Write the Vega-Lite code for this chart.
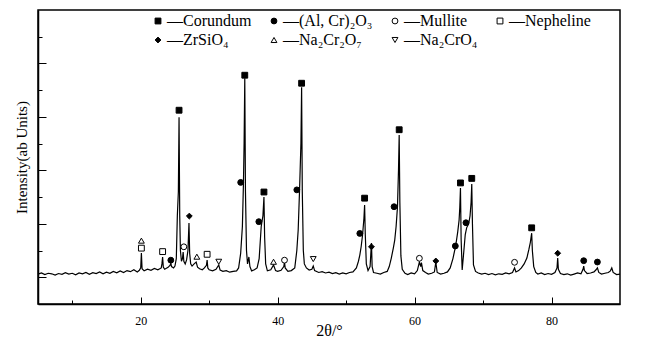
{
  "$schema": "https://vega.github.io/schema/vega-lite/v6.json",
  "width": 582,
  "height": 294,
  "autosize": {"type": "none"},
  "padding": {"left": 38, "top": 10, "right": 27, "bottom": 48},
  "background": "white",
  "config": {"view": {"stroke": "black", "strokeWidth": 1.5}, "font": "Liberation Serif"},
  "datasets": {
    "pattern": [
      {"t":5,"i":112},{"t":5.5,"i":116},{"t":6,"i":110},{"t":6.5,"i":115},{"t":7,"i":113},{"t":7.5,"i":108},{"t":8,"i":114},{"t":8.5,"i":111},{"t":9,"i":117},{"t":9.5,"i":112},
      {"t":10,"i":115},{"t":10.5,"i":109},{"t":11,"i":116},{"t":11.5,"i":113},{"t":12,"i":118},{"t":12.5,"i":111},{"t":13,"i":117},{"t":13.5,"i":114},{"t":14,"i":120},{"t":14.5,"i":113},
      {"t":15,"i":119},{"t":15.5,"i":115},{"t":16,"i":122},{"t":16.5,"i":117},{"t":17,"i":124},{"t":17.5,"i":118},{"t":18,"i":125},{"t":18.5,"i":121},{"t":19,"i":128},{"t":19.5,"i":120},
      {"t":19.8,"i":126},{"t":20.0,"i":135},{"t":20.1,"i":191},{"t":20.2,"i":132},{"t":20.5,"i":124},{"t":21,"i":130},{"t":21.5,"i":126},{"t":22,"i":133},{"t":22.5,"i":128},{"t":23,"i":135},
      {"t":23.1,"i":150},{"t":23.2,"i":176},{"t":23.3,"i":138},{"t":23.5,"i":130},{"t":24,"i":137},{"t":24.3,"i":145},{"t":24.4,"i":153},{"t":24.5,"i":140},{"t":24.8,"i":135},{"t":25.0,"i":142},
      {"t":25.2,"i":170},{"t":25.35,"i":330},{"t":25.5,"i":420},{"t":25.6,"i":699},{"t":25.7,"i":330},{"t":25.8,"i":200},{"t":25.95,"i":160},{"t":26.1,"i":170},{"t":26.2,"i":194},{"t":26.3,"i":160},
      {"t":26.5,"i":150},{"t":26.7,"i":165},{"t":26.9,"i":200},{"t":27.05,"i":303},{"t":27.15,"i":190},{"t":27.3,"i":150},{"t":27.5,"i":142},{"t":27.8,"i":150},{"t":28.1,"i":157},{"t":28.3,"i":138},
      {"t":28.6,"i":132},{"t":29,"i":128},{"t":29.3,"i":135},{"t":29.6,"i":145},{"t":29.7,"i":164},{"t":29.8,"i":135},{"t":30,"i":128},{"t":30.5,"i":124},{"t":31,"i":130},{"t":31.4,"i":146},
      {"t":31.6,"i":127},{"t":32,"i":122},{"t":32.5,"i":125},{"t":33,"i":119},{"t":33.5,"i":122},{"t":34,"i":124},{"t":34.3,"i":135},{"t":34.6,"i":190},{"t":34.85,"i":290},{"t":35.0,"i":445},
      {"t":35.1,"i":600},{"t":35.2,"i":845},{"t":35.3,"i":420},{"t":35.45,"i":200},{"t":35.6,"i":150},{"t":35.8,"i":176},{"t":35.95,"i":140},{"t":36.2,"i":124},{"t":36.6,"i":128},{"t":37,"i":135},
      {"t":37.3,"i":170},{"t":37.6,"i":290},{"t":37.85,"i":330},{"t":38.0,"i":400},{"t":38.1,"i":250},{"t":38.25,"i":150},{"t":38.5,"i":124},{"t":39,"i":128},{"t":39.4,"i":146},{"t":39.7,"i":125},
      {"t":40,"i":122},{"t":40.5,"i":126},{"t":40.9,"i":140},{"t":41.0,"i":157},{"t":41.1,"i":135},{"t":41.5,"i":122},{"t":42,"i":125},{"t":42.5,"i":135},{"t":42.8,"i":200},{"t":43.0,"i":277},
      {"t":43.2,"i":426},{"t":43.4,"i":600},{"t":43.5,"i":811},{"t":43.6,"i":420},{"t":43.75,"i":200},{"t":43.9,"i":150},{"t":44.2,"i":135},{"t":44.6,"i":127},{"t":45,"i":130},{"t":45.2,"i":142},
      {"t":45.4,"i":125},{"t":46,"i":118},{"t":46.5,"i":121},{"t":47,"i":116},{"t":47.5,"i":119},{"t":48,"i":114},{"t":48.5,"i":117},{"t":49,"i":112},{"t":49.5,"i":116},{"t":50,"i":113},
      {"t":50.5,"i":118},{"t":51,"i":120},{"t":51.5,"i":135},{"t":51.8,"i":160},{"t":52.0,"i":183},{"t":52.2,"i":215},{"t":52.4,"i":258},{"t":52.6,"i":320},{"t":52.7,"i":370},{"t":52.8,"i":260},
      {"t":52.95,"i":150},{"t":53.2,"i":125},{"t":53.5,"i":140},{"t":53.7,"i":228},{"t":53.8,"i":140},{"t":54,"i":118},{"t":54.5,"i":115},{"t":55,"i":112},{"t":55.5,"i":118},{"t":56,"i":122},
      {"t":56.3,"i":140},{"t":56.6,"i":172},{"t":56.9,"i":210},{"t":57.1,"i":239},{"t":57.3,"i":290},{"t":57.5,"i":363},{"t":57.65,"i":500},{"t":57.75,"i":632},{"t":57.85,"i":380},{"t":58.0,"i":180},
      {"t":58.2,"i":130},{"t":58.6,"i":115},{"t":59,"i":110},{"t":59.5,"i":116},{"t":60,"i":113},{"t":60.4,"i":125},{"t":60.7,"i":157},{"t":60.9,"i":140},{"t":61.0,"i":155},{"t":61.2,"i":125},
      {"t":61.6,"i":118},{"t":62,"i":112},{"t":62.5,"i":115},{"t":62.9,"i":120},{"t":63.1,"i":157},{"t":63.3,"i":118},{"t":63.8,"i":112},{"t":64.3,"i":115},{"t":64.8,"i":120},{"t":65.2,"i":135},
      {"t":65.6,"i":170},{"t":66.0,"i":217},{"t":66.3,"i":270},{"t":66.5,"i":314},{"t":66.6,"i":360},{"t":66.7,"i":434},{"t":66.8,"i":240},{"t":66.95,"i":127},{"t":67.2,"i":200},{"t":67.4,"i":260},
      {"t":67.6,"i":285},{"t":67.9,"i":300},{"t":68.1,"i":330},{"t":68.25,"i":380},{"t":68.35,"i":449},{"t":68.45,"i":300},{"t":68.6,"i":146},{"t":68.9,"i":122},{"t":69.3,"i":116},{"t":69.8,"i":112},
      {"t":70.3,"i":115},{"t":70.8,"i":110},{"t":71.3,"i":114},{"t":71.8,"i":109},{"t":72.3,"i":113},{"t":72.8,"i":111},{"t":73.3,"i":116},{"t":73.8,"i":113},{"t":74.3,"i":118},{"t":74.6,"i":135},
      {"t":74.8,"i":120},{"t":75.2,"i":125},{"t":75.6,"i":135},{"t":76.0,"i":150},{"t":76.4,"i":172},{"t":76.7,"i":205},{"t":76.9,"i":230},{"t":77.1,"i":265},{"t":77.2,"i":200},{"t":77.4,"i":140},
      {"t":77.7,"i":118},{"t":78,"i":112},{"t":78.5,"i":116},{"t":79,"i":110},{"t":79.5,"i":114},{"t":80,"i":111},{"t":80.5,"i":118},{"t":80.8,"i":135},{"t":80.9,"i":172},{"t":81.0,"i":130},
      {"t":81.3,"i":114},{"t":81.8,"i":110},{"t":82.3,"i":113},{"t":82.8,"i":108},{"t":83.3,"i":112},{"t":83.8,"i":116},{"t":84.3,"i":113},{"t":84.6,"i":130},{"t":84.7,"i":142},{"t":84.8,"i":125},
      {"t":85.2,"i":114},{"t":85.7,"i":116},{"t":86.2,"i":120},{"t":86.5,"i":128},{"t":86.7,"i":135},{"t":86.9,"i":118},{"t":87.3,"i":112},{"t":87.8,"i":115},{"t":88.3,"i":118},{"t":88.6,"i":124},
      {"t":88.8,"i":135},{"t":89,"i":118},{"t":89.5,"i":110},{"t":90,"i":112}
    ],
    "peaks": [
      {"t":25.6,"i":725,"phase":"Corundum"},{"t":35.2,"i":856,"phase":"Corundum"},{"t":38.0,"i":419,"phase":"Corundum"},{"t":43.5,"i":826,"phase":"Corundum"},{"t":52.7,"i":396,"phase":"Corundum"},{"t":57.75,"i":652,"phase":"Corundum"},{"t":66.7,"i":453,"phase":"Corundum"},{"t":68.35,"i":470,"phase":"Corundum"},{"t":77.1,"i":285,"phase":"Corundum"},
      {"t":24.4,"i":164,"phase":"(Al, Cr)₂O₃"},{"t":34.6,"i":455,"phase":"(Al, Cr)₂O₃"},{"t":37.25,"i":308,"phase":"(Al, Cr)₂O₃"},{"t":42.8,"i":427,"phase":"(Al, Cr)₂O₃"},{"t":52.0,"i":264,"phase":"(Al, Cr)₂O₃"},{"t":57.0,"i":364,"phase":"(Al, Cr)₂O₃"},{"t":65.95,"i":217,"phase":"(Al, Cr)₂O₃"},{"t":67.5,"i":304,"phase":"(Al, Cr)₂O₃"},{"t":84.7,"i":162,"phase":"(Al, Cr)₂O₃"},{"t":86.7,"i":157,"phase":"(Al, Cr)₂O₃"},
      {"t":26.3,"i":214,"phase":"Mullite"},{"t":41.0,"i":164,"phase":"Mullite"},{"t":60.7,"i":171,"phase":"Mullite"},{"t":74.6,"i":156,"phase":"Mullite"},
      {"t":20.1,"i":209,"phase":"Nepheline"},{"t":23.2,"i":196,"phase":"Nepheline"},{"t":29.7,"i":186,"phase":"Nepheline"},
      {"t":27.1,"i":329,"phase":"ZrSiO₄"},{"t":53.7,"i":214,"phase":"ZrSiO₄"},{"t":63.1,"i":161,"phase":"ZrSiO₄"},{"t":80.9,"i":190,"phase":"ZrSiO₄"},
      {"t":20.1,"i":237,"phase":"Na₂Cr₂O₇"},{"t":28.2,"i":177,"phase":"Na₂Cr₂O₇"},{"t":39.4,"i":158,"phase":"Na₂Cr₂O₇"},
      {"t":31.4,"i":158,"phase":"Na₂CrO₄"},{"t":45.2,"i":168,"phase":"Na₂CrO₄"}
    ]
  },
  "encoding": {
    "x": {
      "field": "t", "type": "quantitative",
      "scale": {"domain": [5, 90], "nice": false, "zero": false},
      "axis": {
        "title": "2θ/°", "values": [10, 20, 30, 40, 50, 60, 70, 80],
        "labelExpr": "datum.value % 20 === 0 ? datum.label : ''",
        "grid": false, "domainColor": "black", "domainWidth": 1.5,
        "tickColor": "black", "tickWidth": 1,
        "tickSize": {"condition": {"test": "datum.value % 20 === 0", "value": -7}, "value": -4},
        "labelPadding": 18, "labelFont": "Liberation Serif", "labelFontSize": 12, "labelColor": "black",
        "titleFont": "Liberation Serif", "titleFontSize": 16, "titleFontWeight": "normal", "titleColor": "black", "titlePadding": -4
      }
    },
    "y": {
      "field": "i", "type": "quantitative",
      "scale": {"domain": [0, 1100], "nice": false, "zero": true},
      "axis": {
        "title": "Intensity(ab Units)", "values": [100, 200, 300, 400, 500, 600, 700, 800, 900, 1000],
        "labels": false, "grid": false, "domainColor": "black", "domainWidth": 1.5,
        "tickColor": "black", "tickWidth": 1,
        "tickSize": {"condition": {"test": "datum.value % 200 === 100", "value": -8}, "value": -4},
        "titleFont": "Liberation Serif", "titleFontSize": 15, "titleFontWeight": "normal", "titleColor": "black", "titlePadding": 8
      }
    }
  },
  "layer": [
    {"data": {"name": "pattern"}, "mark": {"type": "line", "color": "black", "strokeWidth": 1.2}},
    {
      "data": {"name": "peaks"},
      "mark": {"type": "point", "filled": true, "strokeWidth": 1, "size": 34, "opacity": 1},
      "encoding": {
        "shape": {
          "field": "phase", "type": "nominal",
          "scale": {"domain": ["Corundum", "(Al, Cr)₂O₃", "Mullite", "Nepheline", "ZrSiO₄", "Na₂Cr₂O₇", "Na₂CrO₄"],
                    "range": ["square", "circle", "circle", "square", "diamond", "triangle-up", "triangle-down"]},
          "legend": {"title": null, "orient": "none", "legendX": 112, "legendY": 3, "direction": "horizontal", "columns": 4, "gridAlign": "each",
                     "labelExpr": "'—' + datum.label", "labelFont": "Liberation Serif", "labelFontSize": 16, "labelColor": "black", "labelOffset": 1, "labelLimit": 0,
                     "symbolSize": 34, "symbolStrokeWidth": 1, "columnPadding": 14, "rowPadding": 3, "padding": 0}
        },
        "fill": {
          "field": "phase", "type": "nominal",
          "scale": {"domain": ["Corundum", "(Al, Cr)₂O₃", "Mullite", "Nepheline", "ZrSiO₄", "Na₂Cr₂O₇", "Na₂CrO₄"],
                    "range": ["black", "black", "white", "white", "black", "white", "white"]},
          "legend": {"title": null, "orient": "none", "legendX": 112, "legendY": 3, "direction": "horizontal", "columns": 4, "gridAlign": "each",
                     "labelExpr": "'—' + datum.label", "labelFont": "Liberation Serif", "labelFontSize": 16, "labelColor": "black", "labelOffset": 1, "labelLimit": 0,
                     "symbolSize": 34, "symbolStrokeWidth": 1, "columnPadding": 14, "rowPadding": 3, "padding": 0}
        },
        "stroke": {
          "field": "phase", "type": "nominal",
          "scale": {"domain": ["Corundum", "(Al, Cr)₂O₃", "Mullite", "Nepheline", "ZrSiO₄", "Na₂Cr₂O₇", "Na₂CrO₄"],
                    "range": ["black", "black", "black", "black", "black", "black", "black"]},
          "legend": {"title": null, "orient": "none", "legendX": 112, "legendY": 3, "direction": "horizontal", "columns": 4, "gridAlign": "each",
                     "labelExpr": "'—' + datum.label", "labelFont": "Liberation Serif", "labelFontSize": 16, "labelColor": "black", "labelOffset": 1, "labelLimit": 0,
                     "symbolSize": 34, "symbolStrokeWidth": 1, "columnPadding": 14, "rowPadding": 3, "padding": 0}
        }
      }
    }
  ]
}
